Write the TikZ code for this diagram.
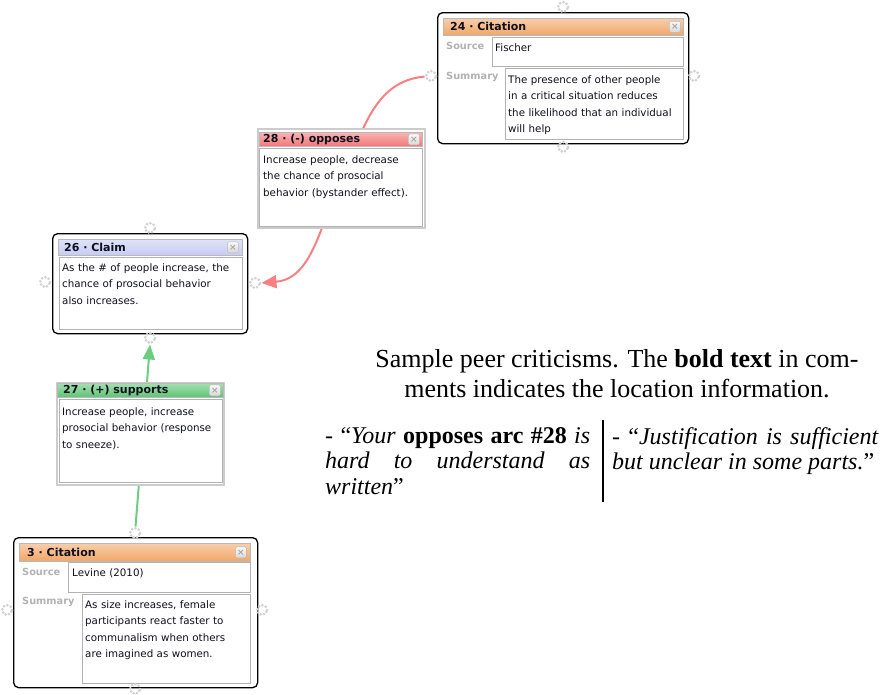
\documentclass[tikz,border=0pt]{standalone}
\usepackage{fontspec}
\setmainfont{Liberation Serif}
\newfontfamily\boxfont{DejaVu Sans}
\usetikzlibrary{positioning,backgrounds,arrows.meta}

\definecolor{citeorange}{RGB}{242,166,102}
\definecolor{opposered}{RGB}{244,118,118}
\definecolor{claimblue}{RGB}{198,203,243}
\definecolor{supportgreen}{RGB}{92,196,114}
\definecolor{linkred}{RGB}{250,128,128}
\definecolor{linkgreen}{RGB}{108,206,128}
\definecolor{boxtext}{RGB}{15,15,30}

\tikzset{
    mapbox/.style={draw=black, line width=1.3pt, rounded corners=5pt, fill=white, anchor=north west, inner sep=0pt},
    arcbox/.style={draw=gray!40, line width=2pt, fill=white, anchor=north west, inner sep=0pt},
    headbar/.style={draw=gray!55, line width=0.6pt, top color=#1!55!white, bottom color=#1, anchor=north west, inner sep=0pt},
    boxtitle/.style={font=\boxfont\bfseries\fontsize{11}{12}\selectfont, text=boxtext, inner sep=0pt},
    closebtn/.style={draw=gray!55, top color=gray!5, bottom color=gray!30, rounded corners=2pt, minimum size=11pt, inner sep=0pt, font=\boxfont\bfseries\fontsize{9}{9}\selectfont, text=gray!70},
    fieldbox/.style={draw=gray!60, line width=0.9pt, fill=white, anchor=north west, inner sep=0pt},
    fieldlabel/.style={font=\boxfont\bfseries\fontsize{9.8}{10}\selectfont, text=gray!60, anchor=west, inner sep=0pt},
    fieldtext/.style={font=\boxfont\fontsize{10.3}{16.3}\selectfont, text=boxtext, anchor=north west, align=left, inner sep=0pt, text width=#1},
    handle/.style={circle, draw=gray!35, line width=3pt, line cap=round, dash pattern=on 0pt off 3.6pt, minimum size=10pt, inner sep=0pt},
    oppose/.style={draw=linkred, line width=2pt, -{Triangle[length=15pt,width=13pt]}},
    support/.style={draw=linkgreen, line width=2pt, -{Triangle[length=15pt,width=12pt]}},
}

\begin{document}
\begin{tikzpicture}[x=1pt,y=-1pt]
    \useasboundingbox (0,0) rectangle (882,694);

    % 24 - Citation
    \node[mapbox, minimum width=251pt, minimum height=131pt] (c24) at (437,12) {};
    \node[headbar=citeorange, minimum width=240pt, minimum height=17pt] (c24h) at (443,18) {};
    \node[boxtitle, right=7pt of c24h.west] (c24t) {24 · Citation};
    \node[closebtn, left=3pt of c24h.east] (c24x) {×};
    \node[fieldlabel] (c24sl) at (446,46) {Source};
    \node[fieldbox, minimum width=191pt, minimum height=29pt] (c24s) at (492,37) {};
    \node[fieldtext=170pt, anchor=west] (c24st) at (495,48) {Fischer};
    \node[fieldlabel] (c24ml) at (446,77) {Summary};
    \node[fieldbox, minimum width=178pt, minimum height=71pt] (c24m) at (505,68) {};
    \node[fieldtext=178pt] (c24mt) at (508,75.5) {The presence of other people\\in a critical situation reduces\\the likelihood that an individual\\will help};
    \node[handle] (h24n) at (563,7) {};
    \node[handle] (h24w) at (431,76) {};
    \node[handle] (h24e) at (694,76) {};
    \node[handle] (h24s) at (563,147) {};

    % 28 - opposes
    \node[arcbox, minimum width=167pt, minimum height=99pt] (op28) at (257,128) {};
    \node[headbar=opposered, minimum width=163pt, minimum height=14pt] (op28h) at (259,132) {};
    \node[boxtitle, right=4pt of op28h.west] (op28t) {28 · (-) opposes};
    \node[closebtn, left=3pt of op28h.east] (op28x) {×};
    \node[fieldbox, minimum width=163pt, minimum height=78pt] (op28b) at (259,148) {};
    \node[fieldtext=160pt] (op28bt) at (263,155.5) {Increase people, decrease\\the chance of prosocial\\behavior (bystander effect).};

    % 26 - Claim
    \node[mapbox, minimum width=195pt, minimum height=100pt] (cl26) at (52,233) {};
    \node[headbar=claimblue, minimum width=184pt, minimum height=16pt] (cl26h) at (58,239) {};
    \node[boxtitle, right=6pt of cl26h.west] (cl26t) {26 · Claim};
    \node[closebtn, left=4pt of cl26h.east] (cl26x) {×};
    \node[fieldbox, minimum width=183pt, minimum height=72pt] (cl26b) at (59,257) {};
    \node[fieldtext=180pt] (cl26bt) at (62,263.5) {As the \# of people increase, the\\chance of prosocial behavior\\also increases.};
    \node[handle] (h26n) at (150,228) {};
    \node[handle] (h26w) at (45,282) {};
    \node[handle] (h26e) at (255,283) {};
    \node[handle] (h26s) at (150,338) {};

    % 27 - supports
    \node[arcbox, minimum width=167pt, minimum height=102pt] (su27) at (56,382) {};
    \node[headbar=supportgreen, minimum width=166pt, minimum height=14pt] (su27h) at (57,383) {};
    \node[boxtitle, right=6pt of su27h.west] (su27t) {27 · (+) supports};
    \node[closebtn, left=3pt of su27h.east] (su27x) {×};
    \node[fieldbox, minimum width=163pt, minimum height=83pt] (su27b) at (59,399) {};
    \node[fieldtext=160pt] (su27bt) at (62,407.5) {Increase people, increase\\prosocial behavior (response\\to sneeze).};

    % 3 - Citation
    \node[mapbox, minimum width=244pt, minimum height=150pt] (ct3) at (13,537) {};
    \node[headbar=citeorange, minimum width=231pt, minimum height=18pt] (ct3h) at (19,543) {};
    \node[boxtitle, right=8pt of ct3h.west] (ct3t) {3 · Citation};
    \node[closebtn, left=4pt of ct3h.east] (ct3x) {×};
    \node[fieldlabel] (ct3sl) at (22,572) {Source};
    \node[fieldbox, minimum width=182pt, minimum height=30pt] (ct3s) at (68,562) {};
    \node[fieldtext=170pt, anchor=west] (ct3st) at (72,573) {Levine (2010)};
    \node[fieldlabel] (ct3ml) at (22,602) {Summary};
    \node[fieldbox, minimum width=168pt, minimum height=89pt] (ct3m) at (82,594) {};
    \node[fieldtext=166pt] (ct3mt) at (85,600.5) {As size increases, female\\participants react faster to\\communalism when others\\are imagined as women.};
    \node[handle] (h3n) at (135,533) {};
    \node[handle] (h3w) at (7,610) {};
    \node[handle] (h3e) at (262,610) {};
    \node[handle] (h3s) at (135,689) {};

    % arcs behind the boxes
    \begin{scope}[on background layer]
        \draw[oppose] (h24w) to[out=185,in=65] (op28.center) to[out=245,in=5] (h26e.east);
        \draw[support] (h3n) -- (h26s.south);
    \end{scope}

    % caption and the two comments
    \node[anchor=north, align=center, font=\fontsize{26}{30}\selectfont, inner sep=0pt] (caption) at (617,349)
        {Sample peer criticisms. The \textbf{bold text} in com-\\ments indicates the location information.};
    \node[anchor=north west, text width=265pt, align=justify, font=\fontsize{24}{25.5}\selectfont, inner sep=0pt] (critleft) at (325,427)
        {- “\textit{Your} \textbf{opposes arc \#28} \textit{is\linebreak hard to understand as\linebreak written}”};
    \node[anchor=north west, text width=266pt, align=justify, font=\fontsize{24}{25.5}\selectfont, inner sep=0pt] (critright) at (612,427)
        {- “\textit{Justification is sufficient\linebreak but unclear in some parts.}”};
    \draw[line width=1.8pt] (603,420) -- (603,502);

\end{tikzpicture}
\end{document}
